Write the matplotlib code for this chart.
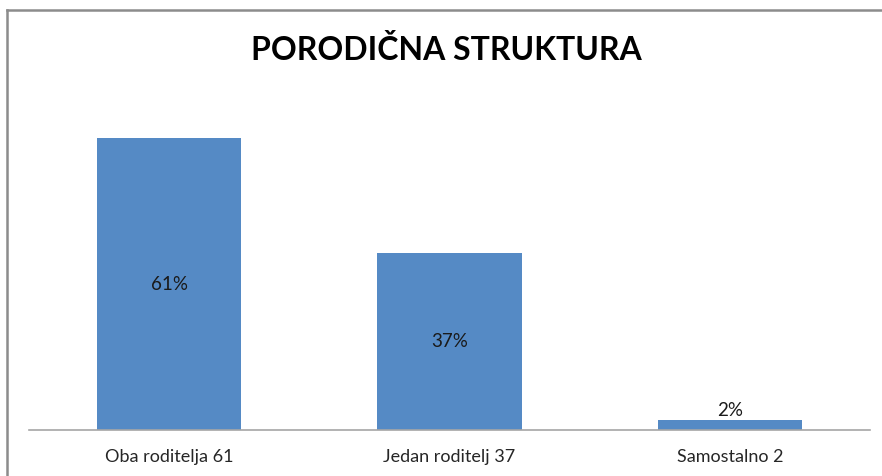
import matplotlib
matplotlib.use("Agg")
import matplotlib.pyplot as plt
from matplotlib.lines import Line2D

categories = ["Oba roditelja 61", "Jedan roditelj 37", "Samostalno 2"]
values = [61, 37, 2]
value_labels = ["61%", "37%", "2%"]

plt.rcParams["font.family"] = ["Lato", "DejaVu Sans"]

W, H = 882, 476
fig = plt.figure(figsize=(W / 100, H / 100), dpi=100)
ax = fig.add_axes([29 / W, 1 - 430 / H, (870 - 29) / W, (430 - 95) / H])

bar_color = "#558ac5"
bars = ax.bar(range(len(values)), values, width=0.514, color=bar_color)
ax.set_xlim(-0.5, len(values) - 0.5)
ax.set_ylim(0, 70)

for i, (v, lab) in enumerate(zip(values, value_labels)):
    if v > 10:
        ax.text(i, v / 2, lab, ha="center", va="center", fontsize=13.5, color="#1a1a1a")
    else:
        ax.text(i, v + 0.4, lab, ha="center", va="bottom", fontsize=13.5, color="#1a1a1a")

ax.set_xticks(range(len(categories)))
ax.set_xticklabels(categories, fontsize=13, color="#262626")
ax.tick_params(axis="x", length=0, pad=14)
ax.set_yticks([])
for s in ("top", "right", "left"):
    ax.spines[s].set_visible(False)
ax.spines["bottom"].set_color("#a6a6a6")
ax.spines["bottom"].set_linewidth(1.2)

fig.text(446 / W, 1 - 50 / H, "PORODIČNA STRUKTURA", ha="center", va="center",
         fontsize=23, fontweight="bold", color="black")

# outer chart frame (top and left edges only visible in the crop)
fig.add_artist(Line2D([7 / W, 1], [1 - 10 / H, 1 - 10 / H], color="#8c8c8c", lw=1.8))
fig.add_artist(Line2D([7 / W, 7 / W], [0, 1 - 10 / H], color="#8c8c8c", lw=1.8))

fig.savefig("out.png", dpi=100)
